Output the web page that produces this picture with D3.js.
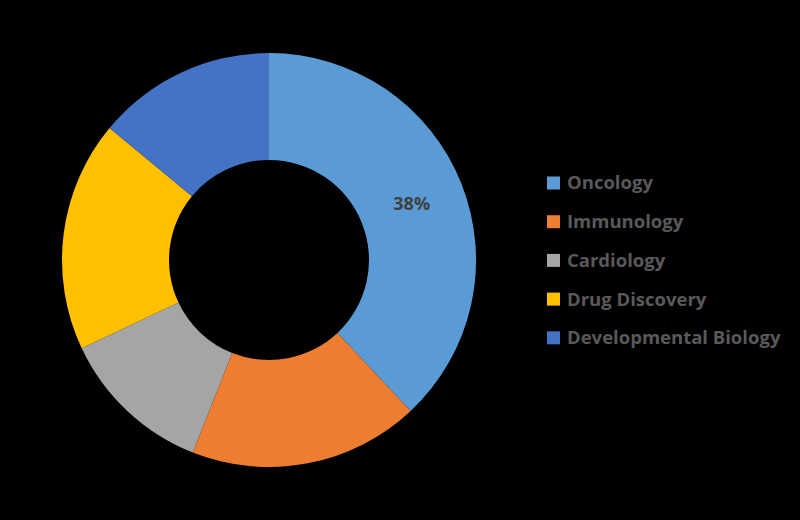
<!DOCTYPE html>
<html>
<head>
<meta charset="utf-8">
<script src="https://cdn.jsdelivr.net/npm/d3@7"></script>
<style>
  html, body { margin: 0; padding: 0; background: #000; }
  svg { display: block; }
</style>
</head>
<body>
<svg id="chart" width="800" height="520"></svg>
<script>
const categories = ["Oncology", "Immunology", "Cardiology", "Drug Discovery", "Developmental Biology"];
const values = [38, 18, 12, 18, 14];
const colors = ["#5B9BD5", "#ED7D31", "#A5A5A5", "#FFC000", "#4472C4"];
const shownLabels = ["38%", "", "", "", ""];

const svg = d3.select("#chart");
svg.append("rect").attr("width", 800).attr("height", 520).attr("fill", "#000");

const cx = 269, cy = 260, rOuter = 207, rInner = 100;
const data = categories.map((c, i) => ({ name: c, value: values[i], color: colors[i], label: shownLabels[i] }));

const pie = d3.pie().value(d => d.value).sort(null);
const arc = d3.arc().innerRadius(rInner).outerRadius(rOuter);
const labelArc = d3.arc().innerRadius((rInner + rOuter) / 2).outerRadius((rInner + rOuter) / 2);

const g = svg.append("g").attr("transform", `translate(${cx},${cy})`);
const arcs = pie(data);

g.selectAll("path.slice").data(arcs).enter().append("path")
  .attr("class", "slice")
  .attr("d", arc)
  .attr("fill", d => d.data.color);

g.selectAll("text.lbl").data(arcs).enter().append("text")
  .attr("class", "lbl")
  .attr("transform", d => `translate(${labelArc.centroid(d)})`)
  .attr("text-anchor", "middle")
  .attr("dy", "0.35em")
  .attr("font-family", "'Open Sans', sans-serif")
  .attr("font-weight", "bold")
  .attr("font-size", 18)
  .attr("fill", "#404040")
  .text(d => d.data.label);

const legendX = 547, legendY0 = 183, legendStep = 38.7;
const legend = svg.append("g");
const items = legend.selectAll("g").data(data).enter().append("g")
  .attr("transform", (d, i) => `translate(${legendX},${legendY0 + i * legendStep})`);
items.append("rect")
  .attr("x", 0).attr("y", -6.5).attr("width", 13).attr("height", 13)
  .attr("fill", d => d.color);
items.append("text")
  .attr("x", 20).attr("y", 0).attr("dy", "0.35em")
  .attr("font-family", "'Open Sans', sans-serif")
  .attr("font-weight", "bold")
  .attr("font-size", 18.5)
  .attr("fill", "#595959")
  .text(d => d.name);
</script>
</body>
</html>
